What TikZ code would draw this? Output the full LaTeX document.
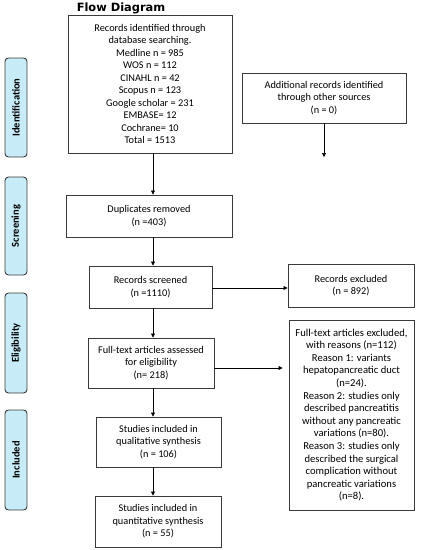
\documentclass[tikz,border=0pt]{standalone}
\usepackage{fontspec}
\setmainfont{Carlito}
\newfontfamily\titlefont{DejaVu Sans}
\usetikzlibrary{arrows.meta}
\definecolor{sidefill}{HTML}{C8EBF8}
\definecolor{boxline}{HTML}{3A3A3A}
\tikzset{
  flowbox/.style={draw=boxline, line width=0.9pt, align=center, inner sep=1pt,
    font=\fontsize{10.3}{12.5}\selectfont, text=black},
  sidebox/.style={draw=boxline, line width=0.9pt, fill=sidefill, rounded corners=3.5pt,
    rotate=90, minimum height=22pt, inner sep=0pt,
    font=\bfseries\fontsize{10.5}{12}\selectfont},
  arr/.style={draw=black, line width=0.7pt, -{Triangle[length=4pt,width=4pt]}}
}
\begin{document}
\begin{tikzpicture}[x=1pt,y=-1pt]
\useasboundingbox (0,0) rectangle (421,550);
% title
\node[font=\titlefont\bfseries\fontsize{11.4}{13}\selectfont] (title) at (121,8) {Flow Diagram};
% side labels
\node[sidebox, minimum width=99pt] (sid) at (16,107.5) {Identification};
\node[sidebox, minimum width=98pt] (sscr) at (16,226) {Screening};
\node[sidebox, minimum width=100pt] (selig) at (16,343) {Eligibility};
\node[sidebox, minimum width=100pt] (sinc) at (16,460) {Included};
% boxes
\node[flowbox, minimum width=164pt, minimum height=138pt] (top) at (150,84)
  {Records identified through\\database searching.\\Medline n = 985\\WOS n = 112\\CINAHL n = 42\\Scopus n = 123\\Google scholar = 231\\EMBASE= 12\\Cochrane= 10\\Total = 1513};
\node[flowbox, minimum width=164pt, minimum height=50pt] (add) at (324,98)
  {Additional records identified\\through other sources\\(n = 0)};
\coordinate (addend) at (324,157);
\node[flowbox, minimum width=166pt, minimum height=42pt] (dup) at (149,216)
  {Duplicates removed\\(n =403)};
\node[flowbox, minimum width=123pt, minimum height=42pt] (scr) at (150.5,287)
  {Records screened\\(n =1110)};
\node[flowbox, minimum width=126pt, minimum height=43pt] (rex) at (351,285.5)
  {Records excluded\\(n = 892)};
\node[flowbox, minimum width=126pt, minimum height=50pt] (ft) at (151,363)
  {Full-text articles assessed\\for eligibility\\(n= 218)};
\node[flowbox, minimum width=125pt, minimum height=190pt, font=\fontsize{10.6}{12.6}\selectfont] (fex) at (351.5,415)
  {Full-text articles excluded,\\with reasons (n=112)\\Reason 1: variants\\hepatopancreatic duct\\(n=24).\\Reason 2: studies only\\described pancreatitis\\without any pancreatic\\variations (n=80).\\Reason 3: studies only\\described the surgical\\complication without\\pancreatic variations\\(n=8).};
\node[flowbox, minimum width=125pt, minimum height=50pt] (qual) at (158.5,442)
  {Studies included in\\qualitative synthesis\\(n = 106)};
\node[flowbox, minimum width=126pt, minimum height=51pt] (quan) at (158,521.5)
  {Studies included in\\quantitative synthesis\\(n = 55)};
% connectors
\coordinate (ax) at (153,0);
\draw[arr] (top.south -| ax) -- (dup.north -| ax);
\draw[arr] (add.south) -- (addend);
\draw[arr] (dup.south -| ax) -- (scr.north -| ax);
\draw[arr] (scr.south -| ax) -- (ft.north -| ax);
\draw[arr] (ft.south -| ax) -- (qual.north -| ax);
\draw[arr] (qual.south -| ax) -- (quan.north -| ax);
\draw[arr] ([yshift=-1pt]scr.east) -- ([yshift=-1pt]scr.east -| rex.west);
\draw[arr] ([yshift=-5pt]ft.east) -- ([yshift=-5pt,xshift=-6pt]ft.east -| fex.west);
\end{tikzpicture}
\end{document}
